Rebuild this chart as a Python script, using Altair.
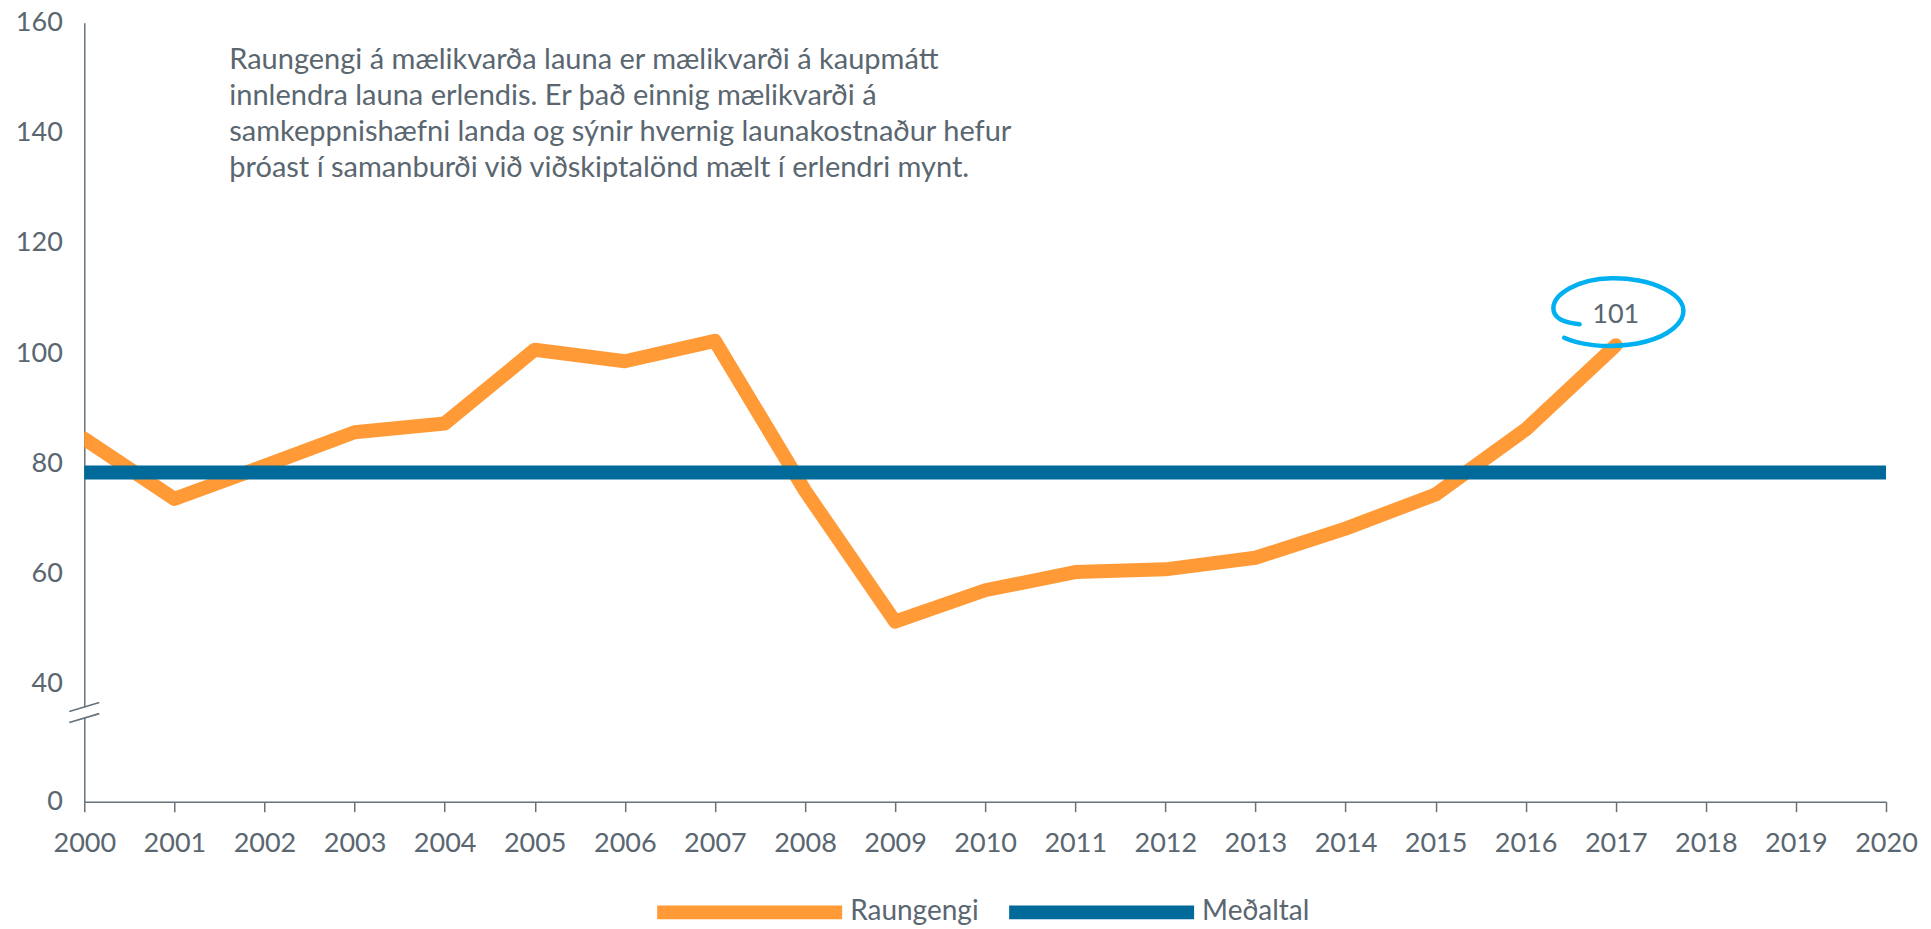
import altair as alt
import pandas as pd

# ---- data ----
years = list(range(2000, 2018))
raungengi = [84.4, 73.5, 79.5, 85.6, 87.2, 100.6, 98.5, 102.2, 75.0, 51.2,
             56.9, 60.2, 60.7, 62.8, 68.1, 74.3, 86.1, 101.4]
mean_years = list(range(2000, 2021))
medaltal = [78.3, 78.3, 78.3, 78.3, 78.3, 78.3, 78.3, 78.3, 78.3, 78.3, 78.3,
            78.3, 78.3, 78.3, 78.3, 78.3, 78.3, 78.3, 78.3, 78.3, 78.3]
series_names = ["Raungengi", "Meðaltal"]
series_colors = ["#ff9a36", "#006b9a"]
x_ticks = list(range(2000, 2021))
y_ticks = [0, 40, 60, 80, 100, 120, 140, 160]
note_lines = [
    "Raungengi á mælikvarða launa er mælikvarði á kaupmátt",
    "innlendra launa erlendis. Er það einnig mælikvarði á",
    "samkeppnishæfni landa og sýnir hvernig launakostnaður hefur",
    "þróast í samanburði við viðskiptalönd mælt í erlendri mynt.",
]
callout_year = [2017]
callout_value = [101.4]
callout_text = ["101"]
break_year = [2000]
break_value = [30.1]

FONT = "Lato"
FS = 27
TXT = "#5a6670"
AX = "#66717b"
W, H = 1802, 779

df_r = pd.DataFrame({"year": years, "value": raungengi, "series": series_names[0]})
df_m = pd.DataFrame({"year": mean_years, "value": medaltal, "series": series_names[1]})
df_c = pd.DataFrame({"year": callout_year, "value": callout_value, "label": callout_text})
df_b = pd.DataFrame({"year": break_year, "value": break_value})
df_n = pd.DataFrame({"note": ["\n".join(note_lines)]})

color = alt.Color(
    "series:N",
    scale=alt.Scale(domain=series_names, range=series_colors),
    legend=alt.Legend(
        orient="none", legendX=566, legendY=790, direction="horizontal",
        symbolType="stroke", symbolSize=34225, symbolStrokeWidth=14,
        labelFont=FONT, labelFontSize=28, labelColor=TXT, labelOffset=1,
        columnPadding=2, title=None, padding=0,
    ),
)

x_enc = alt.X(
    "year:Q",
    scale=alt.Scale(domain=[2000, 2020], nice=False, zero=False),
    axis=alt.Axis(values=x_ticks, format="d", title=None, grid=False,
                  tickSize=10, labelPadding=19, labelFlush=False,
                  labelOverlap=False),
)
y_enc = alt.Y(
    "value:Q",
    scale=alt.Scale(domain=[0, 40, 160], range=[H, H - 118.4, 0], nice=False),
    axis=alt.Axis(values=y_ticks, title=None, grid=False, ticks=False,
                  labelPadding=22),
)

orange = alt.Chart(df_r).mark_line(
    strokeWidth=14, strokeCap="round", strokeJoin="round", clip=True
).encode(x=x_enc, y=y_enc, color=color)

blue = alt.Chart(df_m).mark_line(strokeWidth=14, strokeCap="butt").encode(
    x="year:Q", y="value:Q", color=color
)

ellipse_path = ("M -0.83 0.39 C -0.35 0.62 0.75 0.55 1.0 0.1 "
                "C 1.2 -0.3 0.45 -0.56 -0.1 -0.54 "
                "C -0.6 -0.53 -1.0 -0.3 -1.0 -0.07 "
                "C -1.0 0.1 -0.8 0.16 -0.59 0.18")
ellipse = alt.Chart(df_c).mark_point(
    shape=ellipse_path, size=16384, filled=False, color="#00b0f0",
    strokeWidth=4.5, strokeCap="round", opacity=1, xOffset=1.6, yOffset=-32.5,
).encode(x="year:Q", y="value:Q")

label = alt.Chart(df_c).mark_text(
    font=FONT, fontSize=FS, color=TXT, dy=-30, baseline="middle", align="center"
).encode(x="year:Q", y="value:Q", text="label:N")

gap = alt.Chart(df_b).mark_point(
    shape="square", size=110, filled=True, color="white", strokeWidth=0, opacity=1
).encode(x="year:Q", y="value:Q")

slashes = alt.Chart(df_b).mark_point(
    shape="M -1 -0.07 L 1 -0.67 M -1 0.67 L 1 0.07", size=900, filled=False,
    color=AX, strokeWidth=1.6, opacity=1,
).encode(x="year:Q", y="value:Q")

note = alt.Chart(df_n).mark_text(
    font=FONT, fontSize=29, color=TXT, align="left", baseline="top",
    lineBreak="\n", lineHeight=36,
).encode(x=alt.value(145), y=alt.value(23), text="note:N")

chart = alt.layer(orange, blue, gap, slashes, ellipse, label, note).properties(
    width=W, height=H,
    autosize=alt.AutoSizeParams(type="none"),
    padding={"left": 76.3, "top": 14.7, "right": 37, "bottom": 127},
).configure_view(stroke=None).configure_axis(
    domainColor=AX, tickColor=AX, labelColor=TXT, labelFont=FONT,
    labelFontSize=FS, domainWidth=1.5, tickWidth=1.5,
)

chart.save("out.html", embed_options={"renderer": "svg", "actions": False})
